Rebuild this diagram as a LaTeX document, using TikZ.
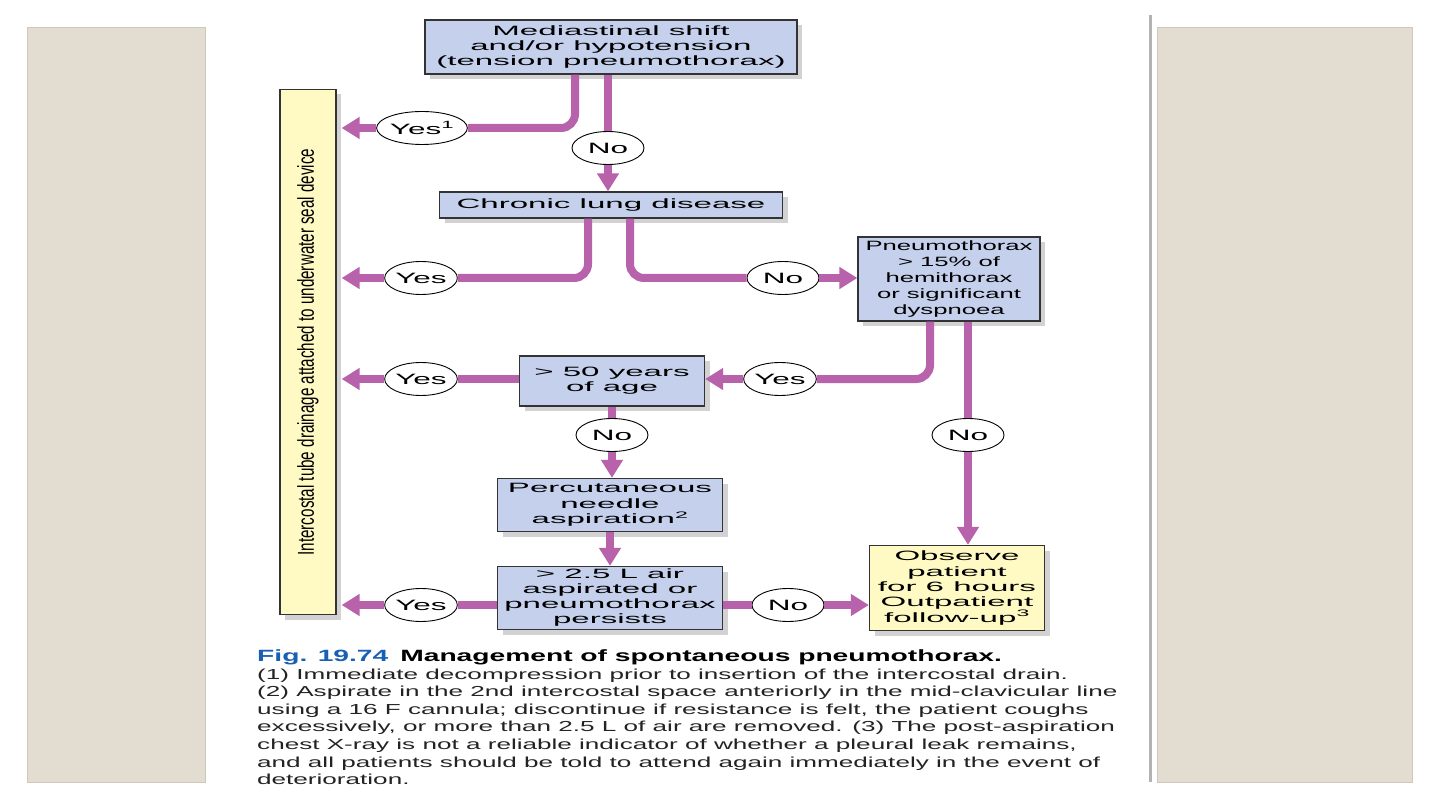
\documentclass[tikz,border=0pt]{standalone}
\usepackage{fontspec}
\setmainfont{Liberation Sans}
\newfontfamily\boxfont{Liberation Sans}[FakeStretch=2.45]
\newfontfamily\pneufont{Liberation Sans}[FakeStretch=1.9]
\newfontfamily\lblfont{Liberation Sans}[FakeStretch=2.1]
\newfontfamily\capfont{Liberation Sans}[FakeStretch=1.80]
\newfontfamily\titlefont{Liberation Sans Bold}[FakeStretch=1.73]
\newfontfamily\tubefont{Liberation Sans}[FakeStretch=0.66]
\usetikzlibrary{arrows.meta,shapes.geometric,shadows}
\definecolor{flowc}{RGB}{184,98,172}
\definecolor{boxblue}{RGB}{197,208,236}
\definecolor{boxyellow}{RGB}{255,250,196}
\definecolor{panelc}{RGB}{226,220,209}
\definecolor{panelb}{RGB}{205,199,188}
\definecolor{figblue}{RGB}{25,95,180}
\definecolor{captext}{RGB}{35,35,35}
\begin{document}
\begin{tikzpicture}[x=1pt,y=-1pt,
  shade/.style={drop shadow={shadow xshift=5pt,shadow yshift=-5pt,opacity=0.25,fill=black!70}},
  box/.style={draw=black!80, line width=1.3pt, fill=boxblue, align=center, inner sep=0pt,
    font=\boxfont\fontsize{13.5}{15}\selectfont, shade},
  ybox/.style={box, fill=boxyellow},
  lab/.style={ellipse, draw=black, fill=white, line width=0.9pt, minimum width=72pt,
    minimum height=33pt, inner sep=0pt, font=\lblfont\fontsize{15}{15}\selectfont},
  flow/.style={draw=flowc, line width=8pt, rounded corners=14pt},
  arr/.style={-{Triangle[length=18pt,width=21pt]}},
  capline/.style={anchor=base west, inner sep=0pt, text=captext, font=\capfont\fontsize{14.5}{14.5}\selectfont}
]
\useasboundingbox (0,0) rectangle (1440,810);
\fill[white] (0,0) rectangle (1440,810);
% side panels
\filldraw[fill=panelc, draw=panelb, line width=0.8pt] (27,27) rectangle (205,782);
\filldraw[fill=panelc, draw=panelb, line width=0.8pt] (1157,27) rectangle (1412,782);
\draw[line width=3pt, draw=black!30] (1150,15) -- (1150,782);

% boxes
\node[ybox, minimum width=56pt, minimum height=525pt] (tube) at (308,352) {};
\node[rotate=90, inner sep=0pt, font=\tubefont\fontsize{23}{23}\selectfont] (tubetext) at (tube.center)
  {Intercostal tube drainage attached to underwater seal device};
\node[box, minimum width=372pt, minimum height=54pt] (top) at (611,47)
  {Mediastinal shift\\and/or hypotension\\(tension pneumothorax)};
\node[box, minimum width=343pt, minimum height=26pt] (chronic) at (611,205) {Chronic lung disease};
\node[box, minimum width=182pt, minimum height=84pt, font=\pneufont\fontsize{13.5}{15.8}\selectfont] (pneu) at (949,279)
  {Pneumothorax\\> 15\% of\\hemithorax\\or significant\\dyspnoea};
\node[box, minimum width=185pt, minimum height=50pt] (age) at (612,381) {> 50 years\\of age};
\node[box, minimum width=225pt, minimum height=53pt, font=\boxfont\fontsize{13.5}{15.5}\selectfont] (perc) at (610,505)
  {Percutaneous\\needle\\aspiration\textsuperscript{2}};
\node[box, minimum width=225pt, minimum height=63pt] (air) at (610,598)
  {> 2.5 L air\\aspirated or\\pneumothorax\\persists};
\node[ybox, minimum width=175pt, minimum height=85pt, font=\boxfont\fontsize{13.5}{15.3}\selectfont] (obs) at (957,588)
  {Observe\\patient\\for 6 hours\\Outpatient\\follow-up\textsuperscript{3}};

% labels
\node[lab] (yes1) at (422,128) {Yes\textsuperscript{1}};
\node[lab] (no1) at (608,148) {No};
\node[lab] (yes2) at (421,278) {Yes};
\node[lab] (no2) at (783,278) {No};
\node[lab] (yes3) at (780,379) {Yes};
\node[lab] (yes4) at (421,379) {Yes};
\node[lab] (no3) at (612,435) {No};
\node[lab] (no4) at (968,435) {No};
\node[lab] (yes5) at (421,605) {Yes};
\node[lab] (no5) at (788,605) {No};

% connectors
\draw[flow] ([xshift=-36pt]top.south) |- (yes1.east);
\draw[flow,arr] (yes1.west) -- ([xshift=5pt]tube.east |- yes1.west);
\draw[flow] (top.south -| no1) -- (no1.north);
\draw[flow,arr] (no1.south) -- (no1.south |- chronic.north);

\draw[flow] ([xshift=-23pt]chronic.south) |- (yes2.east);
\draw[flow,arr] (yes2.west) -- ([xshift=5pt]tube.east |- yes2.west);
\draw[flow] ([xshift=19pt]chronic.south) |- (no2.west);
\draw[flow,arr] (no2.east) -- (pneu.west |- no2.east);

\draw[flow] ([xshift=-19pt]pneu.south) |- (yes3.east);
\draw[flow,arr] (yes3.west) -- (age.east |- yes3.west);
\draw[flow] (age.west |- yes4) -- (yes4.east);
\draw[flow,arr] (yes4.west) -- ([xshift=5pt]tube.east |- yes4.west);
\draw[flow] (pneu.south -| no4) -- (no4.north);
\draw[flow,arr] (no4.south) -- (no4.south |- obs.north);

\draw[flow] (age.south -| no3) -- (no3.north);
\draw[flow,arr] (no3.south) -- (no3.south |- perc.north);
\draw[flow,arr] (perc.south) -- (air.north);
\draw[flow] (air.west |- yes5) -- (yes5.east);
\draw[flow,arr] (yes5.west) -- ([xshift=5pt]tube.east |- yes5.west);
\draw[flow] (air.east |- no5) -- (no5.west);
\draw[flow,arr] (no5.east) -- (obs.west |- no5.east);

% caption
\node[anchor=base west, inner sep=0pt, font=\titlefont\fontsize{16.3}{16.3}\selectfont] (cap0) at (257,661)
  {\textcolor{figblue}{Fig. 19.74}\hspace{12pt}Management of spontaneous pneumothorax.};
\node[capline] (cap1) at (257,679) {(1) Immediate decompression prior to insertion of the intercostal drain.};
\node[capline] (cap2) at (257,696.6) {(2) Aspirate in the 2nd intercostal space anteriorly in the mid-clavicular line};
\node[capline] (cap3) at (257,714.2) {using a 16 F cannula; discontinue if resistance is felt, the patient coughs};
\node[capline] (cap4) at (257,731.8) {excessively, or more than 2.5 L of air are removed. (3) The post-aspiration};
\node[capline] (cap5) at (257,749.4) {chest X-ray is not a reliable indicator of whether a pleural leak remains,};
\node[capline] (cap6) at (257,767) {and all patients should be told to attend again immediately in the event of};
\node[capline] (cap7) at (257,784.6) {deterioration.};
\end{tikzpicture}
\end{document}
